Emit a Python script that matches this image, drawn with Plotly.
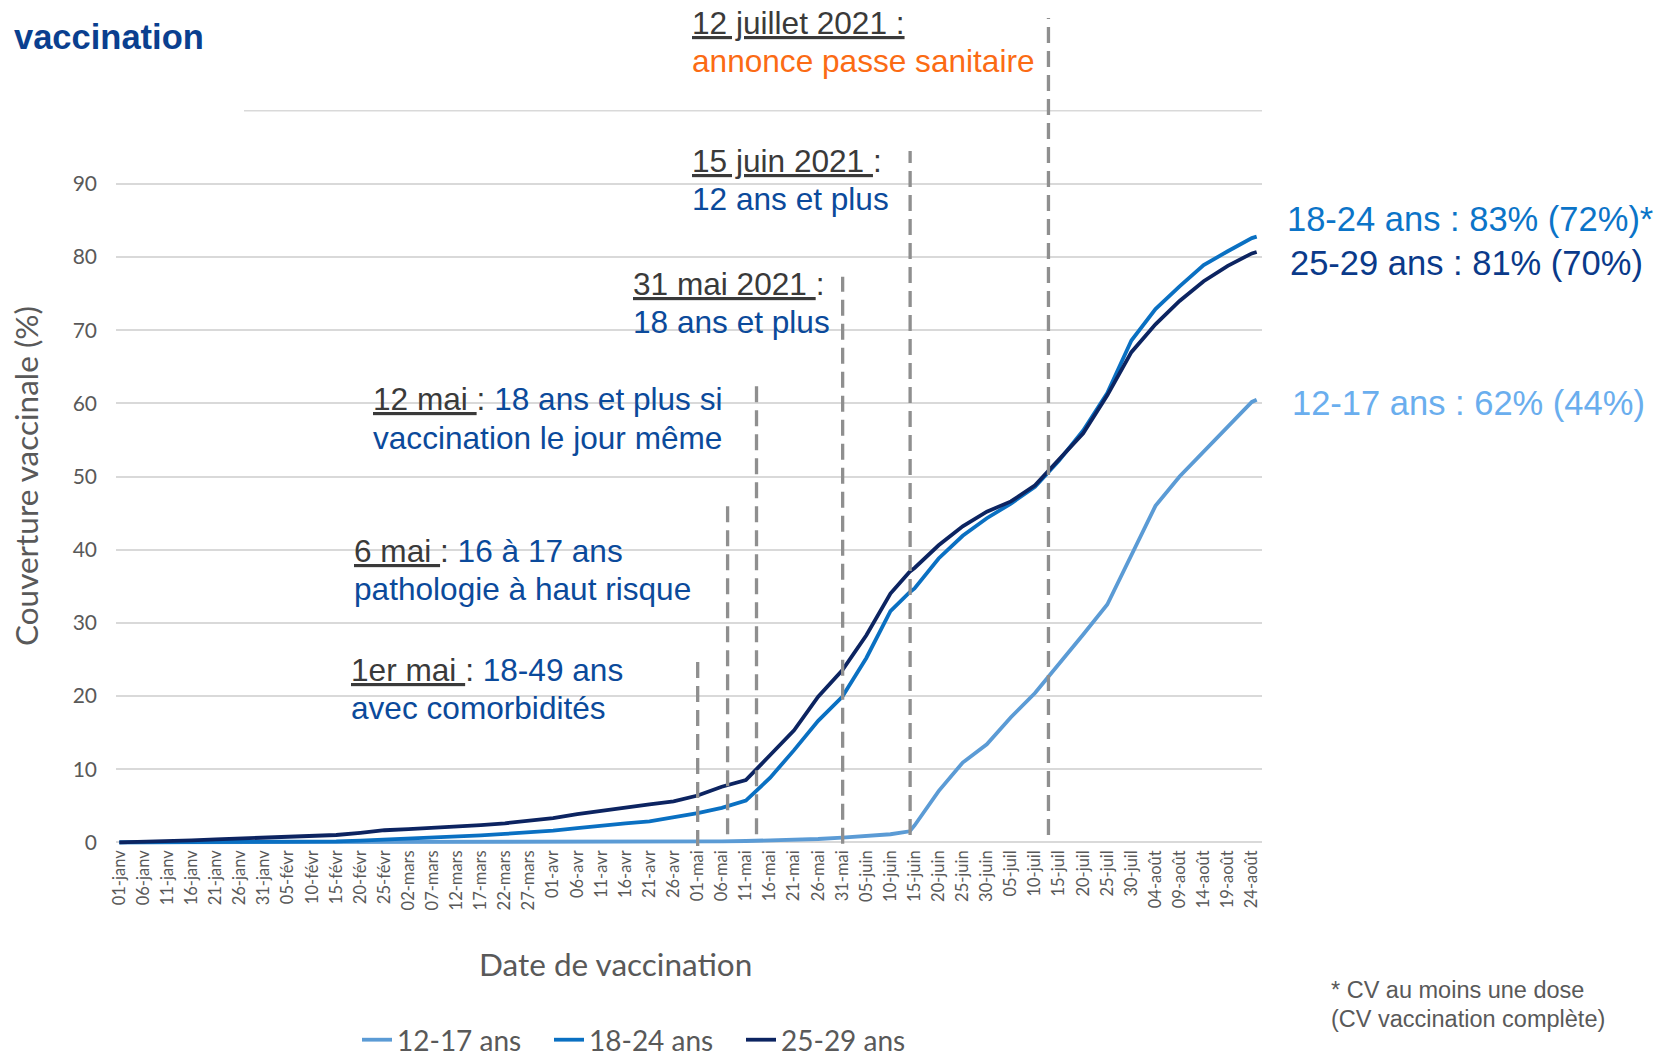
import datetime as dt
import plotly.graph_objects as go

# ---------------- data ----------------
DATES = [
    "2021-01-01", "2021-01-06", "2021-01-11", "2021-01-16", "2021-01-21", "2021-01-26",
    "2021-01-31", "2021-02-05", "2021-02-10", "2021-02-15", "2021-02-20", "2021-02-25",
    "2021-03-02", "2021-03-07", "2021-03-12", "2021-03-17", "2021-03-22", "2021-03-27",
    "2021-04-01", "2021-04-06", "2021-04-11", "2021-04-16", "2021-04-21", "2021-04-26",
    "2021-05-01", "2021-05-06", "2021-05-11", "2021-05-16", "2021-05-21", "2021-05-26",
    "2021-05-31", "2021-06-05", "2021-06-10", "2021-06-14", "2021-06-15", "2021-06-20",
    "2021-06-25", "2021-06-30", "2021-07-05", "2021-07-10", "2021-07-15", "2021-07-20",
    "2021-07-25", "2021-07-30", "2021-08-04", "2021-08-09", "2021-08-14", "2021-08-19",
    "2021-08-24", "2021-08-25",
]

CV_12_17 = [
    0.0, 0.0, 0.0, 0.0, 0.0, 0.0,
    0.0, 0.0, 0.0, 0.01, 0.01, 0.01,
    0.02, 0.02, 0.02, 0.02, 0.03, 0.03,
    0.03, 0.03, 0.04, 0.04, 0.04, 0.05,
    0.08, 0.12, 0.18, 0.25, 0.35, 0.45,
    0.65, 0.85, 1.1, 1.5, 2.3, 7.0,
    10.9, 13.4, 17.1, 20.4, 24.3, 28.4,
    32.5, 39.2, 46.0, 50.0, 53.4, 56.8,
    60.2, 60.5,
]

CV_18_24 = [
    0.0, 0.0, 0.02, 0.03, 0.04, 0.05,
    0.06, 0.07, 0.08, 0.12, 0.22, 0.35,
    0.5, 0.62, 0.8, 0.95, 1.15, 1.35,
    1.6, 1.95, 2.3, 2.6, 2.85, 3.4,
    4.0, 4.7, 5.7, 8.8, 12.6, 16.6,
    19.9, 25.2, 31.6, 34.2, 34.7, 38.8,
    41.9, 44.3, 46.3, 48.6, 52.2, 56.3,
    61.4, 68.6, 72.9, 76.0, 78.9, 80.8,
    82.6, 82.8,
]

CV_25_29 = [
    0.0, 0.05, 0.15, 0.25, 0.4, 0.5,
    0.6, 0.7, 0.8, 1.0, 1.3, 1.65,
    1.8, 1.95, 2.1, 2.35, 2.6, 3.0,
    3.3, 3.85, 4.3, 4.85, 5.2, 5.6,
    6.4, 7.6, 8.5, 11.9, 15.3, 19.9,
    23.5, 28.3, 34.0, 37.0, 37.5, 40.6,
    43.2, 45.2, 46.6, 48.8, 52.3, 55.9,
    61.1, 67.0, 70.8, 74.0, 76.7, 78.8,
    80.5, 80.7,
]

SERIES_NAMES = ["12-17 ans", "18-24 ans", "25-29 ans"]
SERIES_COLORS = ["#5b9bd5", "#0a70c2", "#0c2461"]

# dashed event markers (date positions as drawn, top / bottom heights in %)
EVENT_DATES = ["2021-05-01", "2021-05-07 05:00", "2021-05-13 05:00",
               "2021-05-31 02:00", "2021-06-14 02:00", "2021-07-12 19:00"]
EVENT_TOPS = [24.9, 46.1, 62.8, 77.3, 94.5, 112.7]
EVENT_BOTTOMS = [-0.5, 1.1, 1.1, -0.2, 1.0, 1.0]

MONTHS_FR = ["janv", "févr", "mars", "avr", "mai", "juin", "juil", "août"]
TICK_START = dt.date(2021, 1, 1)
TICK_DATES = [TICK_START + dt.timedelta(days=5 * i) for i in range(48)]
TICK_LABELS = [f"{d.day:02d}-{MONTHS_FR[d.month - 1]}" for d in TICK_DATES]
Y_TICKS = [0, 10, 20, 30, 40, 50, 60, 70, 80, 90]

# ---------------- layout geometry ----------------
W, H = 1657, 1061
L, R, T, B = 116, 1262, 8, 846          # plot area in pixels
PX_PER_DAY = 4.819
X0_PX = 119.4                           # pixel of 1 Jan


def px(x):
    return (x - L) / (R - L)


def py(y):
    return (B - y) / (B - T)


base = dt.datetime(2021, 1, 1)
x_left = base + dt.timedelta(days=(L - X0_PX) / PX_PER_DAY)
x_right = base + dt.timedelta(days=(R - X0_PX) / PX_PER_DAY)

GREY = "#595959"
DARK = "#3a3a3a"
BLUE = "#0b4a9b"
ORANGE = "#fb6b14"
ANN_FONT = "Liberation Sans, Arial, sans-serif"
AX_FONT = "Lato, Open Sans, sans-serif"

fig = go.Figure()
for name, vals, col in zip(SERIES_NAMES, [CV_12_17, CV_18_24, CV_25_29], SERIES_COLORS):
    fig.add_trace(go.Scatter(
        x=DATES, y=vals, mode="lines", name=name,
        line=dict(color=col, width=3.8),
    ))

# vertical dashed lines
for d, y0, y1 in zip(EVENT_DATES, EVENT_BOTTOMS, EVENT_TOPS):
    fig.add_shape(type="line", xref="x", yref="y", x0=d, x1=d, y0=y0, y1=y1,
                  line=dict(color="#8f8f8f", width=3.3, dash="16px,8px"), layer="above")

# top gridline at 100 (partially hidden on the left in the source)
fig.add_shape(type="line", xref="paper", yref="y", x0=px(244), x1=1, y0=100, y1=100,
              line=dict(color="#d9d9d9", width=1.6), layer="below")

ann = []


def add_text(text, x, y, size, color, xanchor="left", font=ANN_FONT, angle=0):
    ann.append(dict(text=text, x=px(x), y=py(y), xref="paper", yref="paper",
                    xanchor=xanchor, yanchor="middle", showarrow=False,
                    textangle=angle, font=dict(family=font, size=size, color=color)))


FS = 31.6
add_text("<b>vaccination</b>", 11.5, 37, 34.5, "#0a3f8f")

add_text("<u>12 juillet 2021 :</u>", 690, 23, FS, DARK)
add_text("annonce passe sanitaire", 690, 61, FS, ORANGE)
add_text("<u>15 juin 2021 </u>:", 690, 160.6, FS, DARK)
add_text("12 ans et plus", 690, 198.7, FS, BLUE)
add_text("<u>31 mai 2021 </u>:", 631, 284, FS, DARK)
add_text("18 ans et plus", 631, 322, FS, BLUE)
add_text(f"<u>12 mai </u>: <span style='color:{BLUE}'>18 ans et plus si</span>", 371, 399.5, FS, DARK)
add_text("vaccination le jour même", 371, 437.5, FS, BLUE)
add_text(f"<u>6 mai </u>: <span style='color:{BLUE}'>16 à 17 ans</span>", 352, 550.6, FS, DARK)
add_text("pathologie à haut risque", 352, 588.6, FS, BLUE)
add_text(f"<u>1er mai </u>: <span style='color:{BLUE}'>18-49 ans</span>", 349, 670, FS, DARK)
add_text("avec comorbidités", 349, 708, FS, BLUE)

add_text("18-24 ans : 83% (72%)*", 1285, 218.8, 34.5, "#0b74c8")
add_text("25-29 ans : 81% (70%)", 1288, 263, 34.5, "#0a3a8a")
add_text("12-17 ans : 62% (44%)", 1290, 402.6, 34.5, "#6aaeee")

add_text("* CV au moins une dose", 1329, 990, 23.5, GREY)
add_text("(CV vaccination complète)", 1329, 1019, 23.5, GREY)

add_text("Couverture vaccinale (%)", 26, 476, 31.5, GREY, xanchor="center", font=AX_FONT, angle=-90)
add_text("Date de vaccination", 615, 964, 31.5, GREY, xanchor="center", font=AX_FONT)

fig.update_layout(
    width=W, height=H,
    margin=dict(l=L, r=W - R, t=T, b=H - B, autoexpand=False),
    paper_bgcolor="white", plot_bgcolor="white",
    annotations=ann,
    showlegend=True,
    legend=dict(orientation="h", xref="paper", yref="container",
                x=px(357), y=(H - 1040) / H, xanchor="left", yanchor="middle",
                font=dict(family=AX_FONT, size=28, color=GREY),
                entrywidth=147, bgcolor="rgba(0,0,0,0)", itemwidth=30),
    xaxis=dict(type="date", range=[x_left, x_right],
               tickmode="array", tickvals=[d.isoformat() for d in TICK_DATES],
               ticktext=TICK_LABELS, tickangle=-90, showgrid=False, zeroline=False,
               showline=False, ticks="",
               tickfont=dict(family=AX_FONT, size=16.5, color=GREY)),
    yaxis=dict(range=[-0.506, 114.05],
               tickmode="array", tickvals=Y_TICKS, showgrid=True,
               gridcolor="#d9d9d9", gridwidth=1.6, zeroline=False, showline=False,
               ticks="", ticklabelstandoff=18,
               tickfont=dict(family=AX_FONT, size=21, color=GREY)),
)

fig.write_html(
    "out.html",
    config={"displayModeBar": False},
    post_script="document.body.style.margin='0';document.body.style.padding='0';",
)
